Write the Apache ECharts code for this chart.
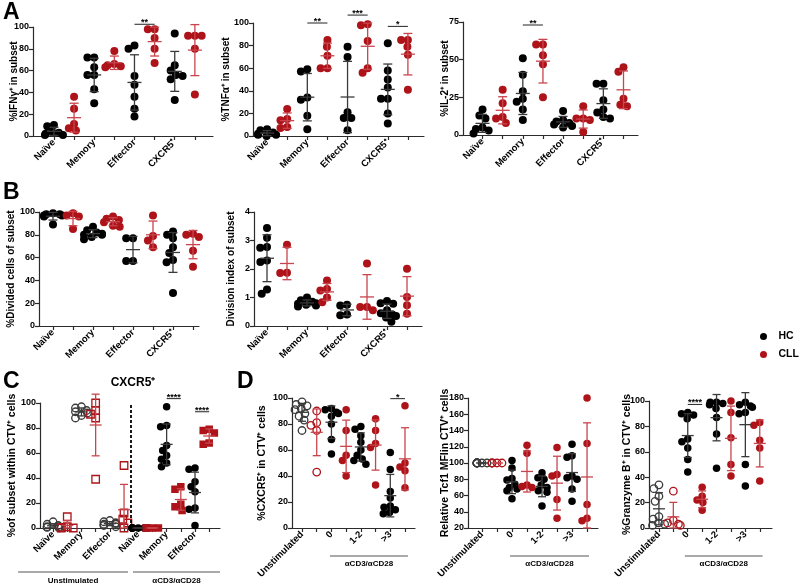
<!DOCTYPE html>
<html><head><meta charset="utf-8">
<script src="https://cdn.jsdelivr.net/npm/echarts@6/dist/echarts.min.js"></script>
<style>html,body{margin:0;padding:0;background:#fff}#c{width:800px;height:585px}</style>
</head><body><div id="c"></div>
<script>
// ---------------- DATA ----------------
const subsetLabels  = ['Naïve', 'Memory', 'Effector', 'CXCR5⁺'];
const subsetLabelsC = ['Naïve', 'Memory', 'Effector', 'Naïve', 'Memory', 'Effector'];
const stimLabels    = ['Unstimulated', '0', '1-2', '>3'];
const groupNames    = ['HC', 'CLL'];

// Panel A (Naive, Memory, Effector, CXCR5+)
const ifngHC  = [[10,9,4,3,2,1,1],[72,72,63,56,56,43,30],[83,80,55,47,36,25,18],[94,65,60,56,55,52,33]];
const ifngCLL = [[36,25,11,7,5],[78,66,65,64,63],[98,98,90,80,67],[92,92,92,80,38]];
const tnfaHC  = [[6,5,3,2,1,1,0],[59,57,34,32,18,6],[79,70,21,16,16,5],[82,58,50,43,33,33,20,11]];
const tnfaCLL = [[24,15,14,8,7],[85,79,71,60,60],[99,98,84,60,56],[85,85,79,72,41]];
const il2HC   = [[17,13,11,5,4,3,1],[51,40,29,24,22,17,10],[16,10,9,8,7,6,5],[34,34,23,17,15,12,11]];
const il2CLL  = [[30,21,12,11,8],[60,60,53,47,25],[19,11,11,10,2],[45,42,24,20,19]];
// Panel B
const dividedHC  = [[99,98,98,97,97,96,89],[87,84,82,81,80,80,78,76],[77,77,57,57],[83,80,77,69,64,58,56,29]];
const dividedCLL = [[99,97,96,85],[96,94,93,91,88,87],[97,79,69,75],[81,80,78,66,52]];
const divIndexHC  = [[3.44,3.1,2.77,2.75,2.3,2.25,1.28,1.13],[1.0,0.9,0.85,0.8,0.78,0.75,0.72,0.68],[0.75,0.72,0.4,0.38],[0.88,0.8,0.78,0.55,0.45,0.4,0.35,0.3,0.15]];
const divIndexCLL = [[2.85,1.87,1.86],[1.6,1.3,1.25,1.0,0.83],[2.19,0.67,0.67,0.55],[2.01,1.02,0.73,0.43]];
// Panel C (CXCR5+ : Naive, Memory, Effector)
const cUnstimHC  = [[5,3,2,1,1,0.5,0],[97,96,94,93,92,90,88],[6,5,4,4,3,3,2,1]];
const cUnstimCLL = [[9,1,0.5,0,0],[100,94,91,88,39],[50,12,7,4,0]];
const cStimHC    = [[0,0,0,0,0,0,0,0],[97,82,81,66,62,58,55,52,49],[48,47,37,33,29,16,15,2]];
const cStimCLL   = [[0,0,0,0,0],[33,31,19,17,14],[79,78,76,68,67]];
// Panel D (Unstimulated, 0, 1-2, >3)
const cxcr5HC  = [[97,95,94,92,91,88,86,83,75],[92,91,89,88,86,80,68,57],[78,76,71,66,60,56,53,52,49],[58,45,28,23,17,16,14,12,11]];
const cxcr5CLL = [[90,81,79,75,43],[91,75,56,52,40],[84,75,65,62,33],[94,50,47,44,31]];
const tcf1HC   = [[100,100,100,100,100,100,100,100],[103,94,81,79,74,70,68,66,56],[88,82,80,73,70,66,64,47],[123,109,107,84,82,80,68,53]];
const tcf1CLL  = [[100,100,100,100,100],[122,112,73,71,70],[119,86,84,55,32],[180,124,49,32,29]];
const gzmbHC   = [[34,31,25,21,9,7,4,3,2],[91,90,89,86,70,68,63,54,44],[99,99,98,97,94,87,74,47],[99,97,96,95,91,90,50,33]];
const gzmbCLL  = [[29,6,4,3,2],[32,25,22,20,14],[100,91,71,50,41],[83,81,69,63,37]];
// significance: [groupA, groupB, level, stars]
const sigIFNG  = [[4,5,102.5,'**']];
const sigTNFA  = [[2,3,100,'**'],[4,5,107,'***'],[6,7,97,'*']];
const sigIL2   = [[2,3,73,'**']];
const sigC     = [[8,9,103.5,'****'],[10,11,93,'****']];
const sigCXCR5 = [[6,7,99.5,'*']];
const sigGZMB  = [[2,3,97.3,'****']];

// ---------------- STYLE / LAYOUT ----------------
const FONT = '"Liberation Sans", Arial, Helvetica, sans-serif';
const RED = '#ad1319', RED_BAR = '#c9454d', BLACK = '#000000', BLACK_BAR = '#3a3a3a', AX = '#2b2b2b';
const KIND = {
  hc:     {symbol:'circle', color:BLACK, open:false, bar:BLACK_BAR, name:'HC'},
  cll:    {symbol:'circle', color:RED, open:false, bar:RED_BAR, name:'CLL'},
  hcO:    {symbol:'circle', color:'#3a3a3a', open:true, bar:BLACK_BAR, name:'HC unstim'},
  cllO:   {symbol:'circle', color:RED, open:true, bar:RED_BAR, name:'CLL unstim'},
  cllSqO: {symbol:'rect', color:RED, open:true, bar:RED_BAR, name:'CLL unstim sq'},
  cllSq:  {symbol:'rect', color:RED, open:false, bar:RED_BAR, name:'CLL'}
};

function pairs(hc, cll) {
  const g = [];
  hc.forEach((v, i) => g.push({x: 2*i, vals: v, kind: 'hc'}));
  cll.forEach((v, i) => g.push({x: 2*i+1, vals: v, kind: 'cll'}));
  return g;
}
function groupsC() {
  const g = [];
  cUnstimHC.forEach((v, i) => g.push({x: 2*i, vals: v, kind: 'hcO'}));
  cUnstimCLL.forEach((v, i) => g.push({x: 2*i+1, vals: v, kind: 'cllSqO'}));
  cStimHC.forEach((v, i) => g.push({x: 6+2*i, vals: v, kind: 'hc'}));
  cStimCLL.forEach((v, i) => g.push({x: 7+2*i, vals: v, kind: 'cllSq'}));
  return g;
}
function groupsD(hc, cll) {
  const g = [];
  hc.forEach((v, i) => g.push({x: 2*i, vals: v, kind: i === 0 ? 'hcO' : 'hc'}));
  cll.forEach((v, i) => g.push({x: 2*i+1, vals: v, kind: i === 0 ? 'cllO' : 'cll'}));
  return g;
}
const ticks8 = [0,1,2,3,4,5,6,7];
const panels = [
  {grid:{left:33,top:27,width:180,height:109}, x:[-1.04,7.9], y:[0,100,20], yName:'%IFNγ⁺ in subset', gap:14, labels:subsetLabels, ticks:ticks8, groups:pairs(ifngHC, ifngCLL), sig:sigIFNG, size:8, cap:9, meanW:14, maxHalf:9, nameSize:10},
  {grid:{left:253,top:23,width:171,height:113}, x:[-0.7,7.8], y:[0,100,20], yName:'%TNFα⁺ in subset', gap:22, labels:subsetLabels, ticks:ticks8, groups:pairs(tnfaHC, tnfaCLL), sig:sigTNFA, size:8, cap:9, meanW:14, maxHalf:9, nameSize:10},
  {grid:{left:463,top:22,width:175,height:113}, x:[-0.97,7.72], y:[0,75,25], yName:'%IL-2⁺ in subset', gap:13, labels:subsetLabels, ticks:ticks8, groups:pairs(il2HC, il2CLL), sig:sigIL2, size:8, cap:9, meanW:14, maxHalf:9, nameSize:10},
  {grid:{left:39,top:212,width:160,height:114}, x:[-0.7,7.3], y:[0,100,20], yName:'%Divided cells of subset', gap:23, labels:subsetLabels, ticks:ticks8, groups:pairs(dividedHC, dividedCLL), sig:[], size:8, cap:9, meanW:14, maxHalf:9, nameSize:10},
  {grid:{left:254,top:212,width:168,height:114}, x:[-0.65,7.75], y:[0,4,1], yName:'Division index of subset', gap:18, labels:subsetLabels, ticks:ticks8, groups:pairs(divIndexHC, divIndexCLL), sig:[], size:8, cap:9, meanW:14, maxHalf:9, nameSize:10},
  {grid:{left:40,top:403,width:180,height:125}, x:[-0.92,11.76], y:[0,100,20], yName:'%of subset within CTV⁺ cells', gap:22, labels:subsetLabelsC, ticks:[0,1,2,3,4,5,6,7,8,9,10,11], groups:groupsC(), sig:sigC, size:7.5, cap:8, meanW:12, maxHalf:6, nameSize:10.5,
    divider:5.5, brackets:[[-2.46,5.28,'Unstimulated'],[5.63,11.76,'αCD3/αCD28']], brLine:44, brText:53},
  {grid:{left:292,top:398,width:123,height:130}, x:[-0.68,7.68], y:[0,100,20], yName:'%CXCR5⁺ in CTV⁺ cells', gap:24, labels:stimLabels, ticks:ticks8, groups:groupsD(cxcr5HC, cxcr5CLL), sig:sigCXCR5, size:7.5, cap:8, meanW:12, maxHalf:7, nameSize:10.5,
    brackets:[[1.9,7.2,'αCD3/αCD28']], brLine:28, brText:36},
  {grid:{left:468,top:398,width:130,height:130}, x:[-0.93,7.73], y:[20,180,20], yName:'Relative Tcf1 MFIin CTV⁺ cells', gap:17, labels:stimLabels, ticks:ticks8, groups:groupsD(tcf1HC, tcf1CLL), sig:[], size:7.5, cap:8, meanW:12, maxHalf:5, nameSize:10.5,
    brackets:[[1.87,7.13,'αCD3/αCD28']], brLine:28, brText:36},
  {grid:{left:649,top:401,width:123,height:127}, x:[-0.69,7.85], y:[0,100,20], yName:'%Granzyme B⁺ in CTV⁺ cells', gap:16, labels:stimLabels, ticks:ticks8, groups:groupsD(gzmbHC, gzmbCLL), sig:sigGZMB, size:7.5, cap:8, meanW:12, maxHalf:7, nameSize:10.5,
    brackets:[[1.8,7.2,'αCD3/αCD28']], brLine:28, brText:36}
];

// ---------------- HELPERS ----------------
const mean = a => a.reduce((s, v) => s + v, 0) / a.length;
const sd = a => { if (a.length < 2) return 0; const m = mean(a); return Math.sqrt(a.reduce((s, v) => s + (v-m)*(v-m), 0) / (a.length - 1)); };

function swarm(vals, pxY, pxX, d, maxHalf) {
  const order = vals.map((v, i) => i).sort((a, b) => vals[b] - vals[a]);
  const placed = [], off = new Array(vals.length);
  order.forEach(i => {
    const y = vals[i] * pxY;
    const cands = [0];
    placed.forEach(p => { const dy = Math.abs(p.y - y); if (dy < d) { const dx = Math.sqrt(d*d - dy*dy); cands.push(p.x - dx, p.x + dx); } });
    cands.sort((a, b) => (Math.abs(a) - Math.abs(b)) || (a - b));
    let best = null;
    for (const c of cands) { if (placed.every(p => (p.x-c)*(p.x-c) + (p.y-y)*(p.y-y) >= d*d - 0.01)) { best = c; break; } }
    if (best === null) best = 0;
    best = Math.max(-maxHalf, Math.min(maxHalf, best));
    placed.push({x: best, y});
    off[i] = best / pxX;
  });
  return off;
}

const option = {
  animation: false, backgroundColor: '#fff', textStyle: {fontFamily: FONT},
  grid: [], xAxis: [], yAxis: [], series: [],
  legend: {data: groupNames, orient: 'vertical', left: 755, top: 326, itemWidth: 20, itemHeight: 7, itemGap: 7, icon: 'circle', selectedMode: false,
    textStyle: {fontFamily: FONT, fontWeight: 'bold', fontSize: 10.5, color: '#000'}},
  graphic: [
    {type:'text', x:3, y:1, style:{text:'A', fontSize:23, fontWeight:'bold', fontFamily:FONT, fill:'#000'}},
    {type:'text', x:3, y:181, style:{text:'B', fontSize:23, fontWeight:'bold', fontFamily:FONT, fill:'#000'}},
    {type:'text', x:3, y:370, style:{text:'C', fontSize:23, fontWeight:'bold', fontFamily:FONT, fill:'#000'}},
    {type:'text', x:237, y:370, style:{text:'D', fontSize:23, fontWeight:'bold', fontFamily:FONT, fill:'#000'}},
    {type:'text', x:133, y:383, style:{text:'CXCR5⁺', align:'center', verticalAlign:'middle', fontSize:12, fontWeight:'bold', fontFamily:FONT, fill:'#000'}}
  ]
};

panels.forEach((p, pi) => {
  const g = p.grid;
  option.grid.push({left: g.left, top: g.top, width: g.width, height: g.height, outerBoundsMode: 'none', containLabel: false});
  const labelMap = {};
  p.labels.forEach((l, i) => { labelMap[2*i] = l; });
  option.xAxis.push({
    gridIndex: pi, type: 'value', min: p.x[0], max: p.x[1],
    axisLine: {show: true, onZero: false, lineStyle: {color: AX, width: 1.2}},
    axisTick: {show: true, customValues: p.ticks, length: 4, lineStyle: {color: AX, width: 1.2}},
    axisLabel: {customValues: Object.keys(labelMap).map(Number), formatter: v => labelMap[Math.round(v)] || '', rotate: 45, margin: 5,
      fontSize: 9.5, fontWeight: 'bold', color: '#000', fontFamily: FONT},
    splitLine: {show: false}
  });
  option.yAxis.push({
    gridIndex: pi, type: 'value', min: p.y[0], max: p.y[1], interval: p.y[2],
    axisLine: {show: true, onZero: false, lineStyle: {color: AX, width: 1.2}},
    axisTick: {show: true, length: 4, lineStyle: {color: AX, width: 1.2}},
    axisLabel: {fontSize: 9, fontWeight: 'bold', color: '#000', margin: 4, fontFamily: FONT},
    splitLine: {show: false},
    name: p.yName, nameLocation: 'middle', nameGap: p.gap, nameMoveOverlap: false,
    nameTextStyle: {fontSize: p.nameSize, fontWeight: 'bold', color: '#000', fontFamily: FONT}
  });
  const pxY = g.height / (p.y[1] - p.y[0]);
  const pxX = g.width / (p.x[1] - p.x[0]);
  // scatter points, grouped per marker kind
  const byKind = {};
  p.groups.forEach(gr => {
    const off = swarm(gr.vals, pxY, pxX, p.size * 0.85, p.maxHalf);
    (byKind[gr.kind] = byKind[gr.kind] || []).push(...gr.vals.map((v, i) => [gr.x + off[i], v]));
  });
  let first = true;
  Object.keys(byKind).forEach(k => {
    const K = KIND[k];
    const s = {
      type: 'scatter', name: K.name, xAxisIndex: pi, yAxisIndex: pi, symbol: K.symbol, symbolSize: p.size, z: 3,
      data: byKind[k], silent: true, color: K.color,
      itemStyle: K.open ? {color: 'rgba(255,255,255,0)', borderColor: K.color, borderWidth: 1.3, opacity: 1} : {color: K.color, borderWidth: 0, opacity: 1}
    };
    if (first && p.divider !== undefined) {
      s.markLine = {silent: true, symbol: 'none', label: {show: false}, lineStyle: {type: [3, 2], color: '#000', width: 1.8}, data: [{xAxis: p.divider}]};
    }
    first = false;
    option.series.push(s);
  });
  // error bars: mean ± SD
  const items = p.groups.map(gr => ({x: gr.x, m: mean(gr.vals), s: sd(gr.vals), c: KIND[gr.kind].bar}));
  option.series.push({
    type: 'custom', xAxisIndex: pi, yAxisIndex: pi, z: 5, silent: true, clip: false,
    data: items.map(it => [it.x, it.m]),
    renderItem: (params, api) => {
      const it = items[params.dataIndex];
      const lo = Math.max(it.m - it.s, p.y[0]), hi = it.m + it.s;
      const c = api.coord([it.x, it.m]), l = api.coord([it.x, lo]), h = api.coord([it.x, hi]);
      const st = {stroke: it.c, lineWidth: 1.3};
      const cw = p.cap / 2, mw = p.meanW / 2;
      return {type: 'group', children: [
        {type: 'line', shape: {x1: c[0], y1: h[1], x2: c[0], y2: l[1]}, style: st},
        {type: 'line', shape: {x1: c[0]-cw, y1: h[1], x2: c[0]+cw, y2: h[1]}, style: st},
        {type: 'line', shape: {x1: c[0]-cw, y1: l[1], x2: c[0]+cw, y2: l[1]}, style: st},
        {type: 'line', shape: {x1: c[0]-mw, y1: c[1], x2: c[0]+mw, y2: c[1]}, style: st}
      ]};
    }
  });
  // significance bars
  if (p.sig.length) {
    option.series.push({
      type: 'custom', xAxisIndex: pi, yAxisIndex: pi, z: 6, silent: true, clip: false,
      data: p.sig.map(s => [s[0], s[2]]),
      renderItem: (params, api) => {
        const s = p.sig[params.dataIndex];
        const a = api.coord([s[0], s[2]]), b = api.coord([s[1], s[2]]);
        return {type: 'group', children: [
          {type: 'line', shape: {x1: a[0], y1: a[1], x2: b[0], y2: b[1]}, style: {stroke: '#222', lineWidth: 1}},
          {type: 'text', style: {text: s[3], x: (a[0]+b[0])/2, y: a[1] + 3, align: 'center', verticalAlign: 'bottom', fontSize: 9, fontWeight: 'bold', fontFamily: FONT, fill: '#000'}}
        ]};
      }
    });
  }
  // condition brackets under the axis
  if (p.brackets) {
    option.series.push({
      type: 'custom', xAxisIndex: pi, yAxisIndex: pi, z: 6, silent: true, clip: false,
      data: p.brackets.map(b => [b[0], p.y[0]]),
      renderItem: (params, api) => {
        const b = p.brackets[params.dataIndex];
        const a = api.coord([b[0], p.y[0]]), e = api.coord([b[1], p.y[0]]);
        return {type: 'group', children: [
          {type: 'line', shape: {x1: a[0], y1: a[1] + p.brLine, x2: e[0], y2: a[1] + p.brLine}, style: {stroke: '#555', lineWidth: 1}},
          {type: 'text', style: {text: b[2], x: (a[0]+e[0])/2, y: a[1] + p.brText, align: 'center', verticalAlign: 'middle', fontSize: 8, fontWeight: 'bold', fontFamily: FONT, fill: '#000'}}
        ]};
      }
    });
  }
});

const chart = echarts.init(document.getElementById('c'), null, {renderer: 'canvas'});
chart.setOption(option);
</script></body></html>
